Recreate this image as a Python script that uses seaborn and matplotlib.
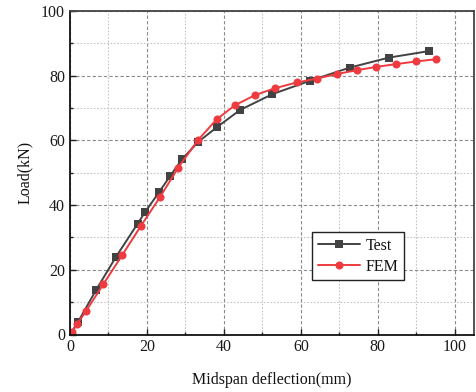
import matplotlib
matplotlib.use("Agg")
import matplotlib.pyplot as plt
from matplotlib.ticker import MultipleLocator
from matplotlib.lines import Line2D
import seaborn as sns
import pandas as pd

test_x = [0.0, 2.1, 6.8, 12.0, 17.6, 19.5, 23.2, 26.1, 29.2, 33.3, 38.3, 44.2, 52.6, 62.3, 72.7, 82.9, 93.3]
test_y = [0.0, 3.9, 13.8, 24.1, 34.3, 37.8, 44.1, 49.1, 54.3, 59.5, 64.2, 69.4, 74.3, 78.4, 82.5, 85.6, 87.6]
fem_x = [0.6, 1.9, 4.2, 8.7, 13.6, 18.4, 23.4, 28.1, 33.2, 38.1, 42.9, 48.1, 53.2, 58.9, 64.1, 69.3, 74.5, 79.5, 84.8, 90.0, 95.1]
fem_y = [0.9, 3.3, 7.3, 15.6, 24.6, 33.5, 42.5, 51.5, 60.0, 66.5, 70.9, 74.0, 76.1, 77.9, 79.1, 80.5, 81.7, 82.7, 83.6, 84.4, 85.1]
series = ["Test", "FEM"]

df = pd.concat([
    pd.DataFrame({"x": test_x, "y": test_y, "s": series[0]}),
    pd.DataFrame({"x": fem_x, "y": fem_y, "s": series[1]}),
])

sns.set_style("ticks")
plt.rcParams["font.family"] = ["Liberation Serif", "DejaVu Serif"]

fig = plt.figure(figsize=(4.76, 3.92), dpi=100)
ax = fig.add_axes([70 / 476, 57.5 / 392, 404 / 476, 323.5 / 392])

colors = {"Test": "#424242", "FEM": "#ef3b3f"}
sns.lineplot(data=df, x="x", y="y", hue="s", style="s", palette=colors,
             markers={"Test": "s", "FEM": "o"}, dashes=False, sort=False,
             markersize=5.8, markeredgewidth=0, linewidth=1.4, ax=ax, legend=False)

ax.set_xlim(0, 105)
ax.set_ylim(0, 100)
ax.xaxis.set_major_locator(MultipleLocator(20))
ax.xaxis.set_minor_locator(MultipleLocator(10))
ax.yaxis.set_major_locator(MultipleLocator(20))
ax.yaxis.set_minor_locator(MultipleLocator(10))
ax.grid(which="major", color="#8a8a8a", linestyle=(0, (3, 2)), linewidth=0.8)
ax.grid(which="minor", color="#c4c4c4", linestyle=(0, (1.5, 1.5)), linewidth=0.8)
ax.set_axisbelow(True)
ax.tick_params(which="both", direction="in", top=False, right=False, labelsize=11.5,
               colors="#222222", labelcolor="#1a1a1a")
ax.tick_params(which="major", length=4, width=1)
ax.tick_params(which="minor", length=2.5, width=1)
for sp in ax.spines.values():
    sp.set_linewidth(1.3)
    sp.set_color("#111111")
ax.spines["top"].set_color("#444444")
ax.spines["right"].set_color("#444444")

ax.set_xlabel("Midspan deflection(mm)", fontsize=11.5, labelpad=12, color="#111111")
ax.set_ylabel("Load(kN)", fontsize=11.5, labelpad=6, color="#111111")

handles = [Line2D([], [], color=colors[s], marker=m, markersize=5.8, markeredgewidth=0, linewidth=1.4)
           for s, m in zip(series, ["s", "o"])]
leg = ax.legend(handles, series, loc="lower left", bbox_to_anchor=(0.6, 0.168),
                fontsize=11.5, frameon=True, fancybox=False, edgecolor="#222222",
                framealpha=1, handlelength=2.6, borderpad=0.35, labelspacing=0.3, handletextpad=0.4,
                borderaxespad=0)
leg.get_frame().set_linewidth(1.0)
for t in leg.get_texts():
    t.set_color("#111111")

fig.savefig("out.png", dpi=100)
